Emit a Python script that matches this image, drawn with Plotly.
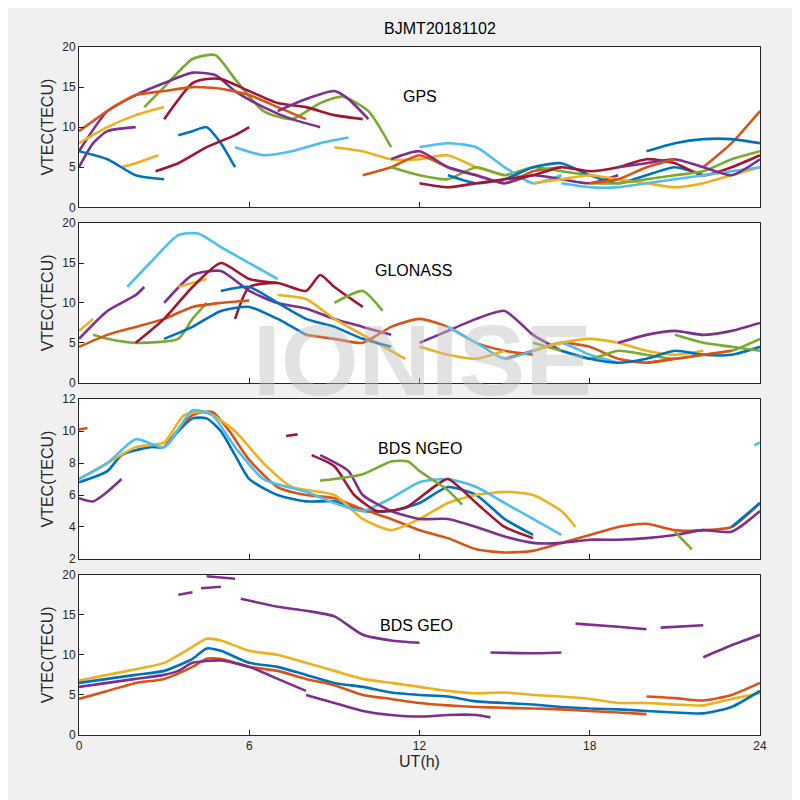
import plotly.graph_objects as go
from plotly.subplots import make_subplots

C = ['#0072BD', '#D95319', '#EDB120', '#7E2F8E', '#77AC30', '#4DBEEE', '#A2142F']

# each segment: color index, x (UT hours), VTEC values
gps_c = [4, 3, 6, 1, 2, 2, 0, 5, 3, 3, 6, 0, 2, 1, 4, 5, 3, 0, 6, 2, 1, 4, 5, 3, 0, 1]
gps_x = [[2.3, 3, 4, 4.8, 5.5, 6.5, 7.5, 8.5, 9.3, 10.2, 11],
         [0, 1, 2, 3, 4, 4.8, 5.5, 6.5, 7.5, 8.5],
         [3, 4, 4.5, 5, 6, 7, 8, 9, 10],
         [0, 1, 2, 3, 4, 5, 6, 7, 8],
         [0, 1, 2, 3],
         [1.5, 2, 2.8],
         [3.5, 4, 4.5, 5, 5.5],
         [5.5, 6.5, 7.5, 8.5, 9.5],
         [0, 0.5, 1, 2],
         [7, 8, 9, 9.5, 10.2],
         [2.7, 3.5, 4.5, 5.5, 6],
         [0, 1, 2, 3],
         [9, 10, 11, 12, 13, 14, 15],
         [10, 11, 12, 13, 14, 15, 16, 17],
         [11, 12, 13, 14, 15, 16, 17, 18],
         [12, 13, 14, 15, 16, 17],
         [11, 12, 13, 14, 15, 16, 17, 18, 19],
         [13, 14, 15, 16, 17, 18, 19, 20, 21, 22],
         [12, 13, 14, 15, 16, 17, 18, 19, 20, 21, 22, 23, 24],
         [16, 17, 18, 19, 20, 21, 22, 23, 24],
         [22, 23, 24],
         [18, 19, 20, 21, 22, 23, 24],
         [17, 18, 19, 20, 21, 22, 23, 24],
         [19, 20, 21, 22, 23, 24],
         [20, 21, 22, 23, 24],
         [18, 19, 20, 21]]
gps_y = [[12.5, 15, 18.5, 19, 16, 12, 11, 13, 13.8, 12, 7.5],
         [7, 12, 14, 15.5, 16.8, 16.5, 14.5, 12.5, 11, 10],
         [11, 15.5, 16, 16, 14.5, 13, 12.5, 11.5, 11],
         [9.5, 12, 14, 14.5, 15, 14.8, 14, 12.5, 11],
         [8, 10, 11.5, 12.5],
         [5, 5.5, 6.5],
         [9, 9.5, 10, 8, 5],
         [7.5, 6.5, 7, 8, 8.7],
         [5, 8, 9.5, 10],
         [12, 13.5, 14.5, 13.5, 11],
         [4.5, 5.5, 7.5, 9, 10],
         [7, 6, 4, 3.5],
         [7.5, 7, 6, 6, 6.5, 5, 4],
         [4, 5, 6.5, 5, 4, 3, 4.5, 5],
         [5, 4, 3.5, 5, 4, 5, 4.5, 4],
         [7.5, 8, 7.5, 5, 3, 4],
         [6, 7, 5, 4, 3, 4, 3.5, 3, 4],
         [4, 3, 3.5, 5, 5.5, 4, 3, 4, 5, 4],
         [3, 2.5, 3, 3.5, 4, 5, 4.5, 5, 6, 5.5, 4, 5, 6.5],
         [3, 3.5, 4, 3.5, 3, 2.5, 3, 4, 5],
         [5, 8, 12],
         [3, 3, 3.5, 4, 4.5, 6, 7],
         [3, 2.5, 2.5, 3, 3.5, 4, 4.5, 5],
         [5, 5.5, 6, 5, 4, 6],
         [7, 8, 8.5, 8.5, 8],
         [3, 3.5, 5, 6]]

glo_c = [5, 6, 3, 3, 2, 2, 2, 0, 4, 4, 1, 1, 0, 6, 3, 1, 5, 4, 2, 0, 3, 1, 4, 2]
glo_x = [[1.7, 2.5, 3.5, 4.2, 5, 6, 7],
         [5.5, 6, 7, 8, 8.5, 9, 10],
         [0, 1, 2, 2.3],
         [3, 4, 5, 6, 7, 8, 9, 10, 11],
         [0, 0.5],
         [3.5, 4.5],
         [7, 8, 9, 10, 11, 11.5],
         [5, 6, 7, 8, 9, 10, 11],
         [0.5, 1, 2, 3.5, 4, 4.5],
         [9, 10, 10.7],
         [0, 1, 2, 3, 4, 5, 6],
         [8, 9, 10, 11, 12, 13, 14, 15, 16],
         [3, 4, 5, 6, 7, 8],
         [2, 3, 4, 5, 6, 7],
         [12, 13, 14, 15, 16, 17],
         [15, 16, 17, 18, 19, 20, 21],
         [13, 14, 15, 16, 17, 18, 19],
         [16, 17, 18, 19, 20, 21, 22, 23, 24],
         [16, 17, 18, 19, 20, 21, 22],
         [17, 18, 19, 20, 21, 22, 23, 24],
         [19, 20, 21, 22, 23, 24],
         [20, 21, 22, 23],
         [21, 22, 23, 24],
         [12, 13, 14, 15]]
glo_y = [[12, 15, 18.5, 18.7, 17, 15, 13],
         [8, 12, 12.5, 11.5, 13.5, 12, 9.5],
         [5.5, 9, 11, 12],
         [10, 13.5, 14, 11.5, 10, 9.3, 8, 7, 6],
         [6.5, 8],
         [12, 13],
         [11, 10.5, 8, 6, 4, 3],
         [11.5, 12, 10, 8, 7, 5.5, 4.5],
         [6, 5.5, 5, 5.5, 8, 10],
         [10, 11.5, 9],
         [4.5, 6, 7, 8, 9.5, 10, 10.3],
         [6, 5.5, 5, 7, 8, 7, 5, 4, 3.5],
         [5.5, 7, 9, 9.5, 8, 6],
         [5, 8, 12, 15, 13, 12.5],
         [5, 6.5, 8, 9, 6, 4],
         [3, 4, 5, 4.5, 3, 2.5, 3],
         [7, 5, 3, 4, 5, 3.5, 2.5],
         [5, 4, 3, 4, 3.5, 3, 3.5, 4, 5.5],
         [4, 5, 5.5, 5, 4, 3.5, 4],
         [4, 3, 2.5, 3, 4, 3.5, 3.5, 4.5],
         [5, 6, 6.5, 6, 6.5, 7.5],
         [2.5, 3, 3.5, 4],
         [6, 5, 4.5, 4],
         [4.5, 3.5, 3, 4]]

ngeo_c = [0, 1, 1, 2, 5, 5, 3, 3, 6, 6, 4, 4, 0]
ngeo_x = [[0, 1, 1.5, 2.5, 3, 3.5, 4, 4.5, 5, 5.5, 6, 7, 8, 9, 10, 11, 12, 13, 14, 15, 16],
          [0, 0.3],
          [3, 4, 4.7, 5.3, 6, 7, 8, 9, 10, 11, 12, 13, 14, 15, 16, 17, 18, 19, 20, 21, 22, 23, 24],
          [0, 1, 2, 3, 3.7, 4.5, 5.5, 6.5, 7.5, 9, 10, 11, 12, 13, 14, 15, 16, 17, 17.5],
          [0, 1, 2, 3, 4, 4.7, 5.5, 6.5, 8, 9, 10, 11, 12, 13, 14, 15, 16, 17],
          [23.8, 24],
          [0, 0.5, 1, 1.5],
          [8.5, 9.5, 10, 11, 12, 13, 14, 15, 16, 17, 18, 19, 20, 21, 22, 23, 24],
          [7.3, 7.7],
          [8.2, 9, 9.7, 10.5, 11.5, 12.5, 13, 14, 15, 16],
          [8.5, 9, 10, 11, 11.6, 12, 13, 13.5],
          [21, 21.6],
          [23, 23.8, 24]]
ngeo_y = [[6.8, 7.5, 8.5, 9, 9, 10, 10.8, 10.8, 10, 8.5, 7, 6, 5.6, 5.6, 5, 5, 5.5, 6.5, 6, 4.5, 3.5],
          [10.1, 10.2],
          [9, 11, 11.2, 10, 8.2, 6.5, 6, 5.8, 5.1, 4.5, 3.8, 3.3, 2.6, 2.4, 2.5, 3, 3.5, 4, 4.2, 3.8, 3.8, 4, 5.5],
          [7, 8, 9, 9.3, 11, 11.2, 10, 8, 6.5, 6, 4.5, 3.8, 4.5, 5.5, 6, 6.2, 6, 5, 4],
          [7, 8, 9.5, 9, 11.3, 11, 9, 7, 6.2, 5.5, 5, 5.8, 6.8, 7, 6.5, 5.5, 4.5, 3.5],
          [9.1, 9.3],
          [5.8, 5.6, 6.2, 7],
          [8.5, 7.5, 6, 5, 4.5, 4.5, 4, 3.4, 3, 3, 3.2, 3.2, 3.3, 3.5, 3.8, 3.7, 5],
          [9.7, 9.8],
          [8.5, 7.8, 6, 5, 5.2, 6.5, 7, 5.5, 4, 3.3],
          [6.9, 7, 7.3, 8.1, 8.1, 7.5, 6.3, 5.4],
          [3.7, 2.6],
          [4, 5.2, 5.5]]

geo_c = [2, 0, 1, 1, 3, 3, 3, 3, 3, 3, 3, 3, 3, 3]
geo_x = [[0, 1, 2, 3, 4, 4.5, 5, 6, 7, 8, 9, 10, 11, 12, 13, 14, 15, 16, 17, 18, 19, 20, 21, 22, 23, 24],
         [0, 1, 2, 3, 4, 4.5, 5, 6, 7, 8, 9, 10, 11, 12, 13, 14, 15, 16, 17, 18, 19, 20, 21, 22, 23, 24],
         [0, 1, 2, 3, 4, 4.5, 5, 6, 7, 8, 9, 10, 11, 12, 13, 14, 15, 16, 17, 18, 19, 20],
         [20, 21, 22, 23, 24],
         [0, 1, 2, 3, 3.5, 4, 5, 6, 7, 8],
         [8, 9, 10, 11, 12, 13, 14, 14.5],
         [3.5, 4],
         [4.3, 5],
         [4.5, 5.5],
         [5.7, 7, 8, 9, 10, 11, 12],
         [14.5, 16, 17],
         [17.5, 19, 20],
         [20.5, 22],
         [22, 23, 24]]
geo_y = [[6.8, 7.5, 8.2, 9, 11, 12, 11.8, 10.5, 10, 9, 8, 7, 6.5, 6, 5.5, 5.2, 5.3, 5, 4.8, 4.5, 4, 4, 3.8, 3.7, 4.5, 5.2],
         [6.5, 7, 7.5, 8, 9.5, 10.8, 10.5, 9, 8.5, 7.5, 6.5, 6, 5.3, 5, 4.8, 4.2, 4, 3.8, 3.5, 3.3, 3.2, 3, 2.8, 2.7, 3.5, 5.5],
         [4.5, 5.5, 6.5, 7, 8.5, 9.5, 9.5, 8.5, 8, 7, 6.2, 5, 4.5, 4, 3.7, 3.5, 3.4, 3.3, 3.2, 3, 2.8, 2.6],
         [4.8, 4.6, 4.3, 5, 6.5],
         [6, 6.5, 7, 7.5, 8, 9, 9.3, 8.5, 7, 5.5],
         [5, 4, 3, 2.5, 2.3, 2.5, 2.5, 2.2],
         [17.5, 17.8],
         [18.3, 18.5],
         [19.8, 19.5],
         [17, 16, 15.5, 14.8, 12.5, 11.8, 11.5],
         [10.3, 10.2, 10.3],
         [13.9, 13.5, 13.2],
         [13.4, 13.7],
         [9.7, 11.2, 12.5]]

x_ticks = [0, 6, 12, 18, 24]
panels = [("GPS", gps_c, gps_x, gps_y, [0, 20], [0, 5, 10, 15, 20], (12, 13.8)),
          ("GLONASS", glo_c, glo_x, glo_y, [0, 20], [0, 5, 10, 15, 20], (11.8, 14.1)),
          ("BDS NGEO", ngeo_c, ngeo_x, ngeo_y, [2, 12], [2, 4, 6, 8, 10, 12], (12, 8.9)),
          ("BDS GEO", geo_c, geo_x, geo_y, [0, 20], [0, 5, 10, 15, 20], (11.9, 13.6))]

fig = make_subplots(rows=4, cols=1)
doms = [[0.767, 1.0], [0.512, 0.744], [0.256, 0.488], [0.0, 0.233]]
for i, (name, cs, xs, ys, yr, yt, lab) in enumerate(panels):
    r = i + 1
    for c, x, y in zip(cs, xs, ys):
        fig.add_trace(go.Scatter(x=x, y=y, mode='lines', line=dict(color=C[c], width=2.6, shape='spline', smoothing=0.6),
                                 showlegend=False, hoverinfo='skip'), row=r, col=1)
    ax = '' if r == 1 else str(r)
    fig.add_annotation(x=lab[0], y=lab[1], xref='x' + ax, yref='y' + ax, text=name, showarrow=False,
                       font=dict(size=16, color='black'))
    fig.update_yaxes(range=yr, tickvals=yt, domain=doms[i], title_text='VTEC(TECU)', title_font=dict(size=16),
                     title_standoff=4, automargin=False, row=r, col=1)
    fig.update_xaxes(range=[0, 24], tickvals=x_ticks, showticklabels=(r == 4), automargin=False, row=r, col=1)

fig.update_xaxes(showgrid=False, zeroline=False, showline=True, mirror=True, linecolor='#262626', linewidth=1,
                 ticks='inside', ticklen=5, tickcolor='#262626', tickfont=dict(size=12, color='#262626'))
fig.update_yaxes(showgrid=False, zeroline=False, showline=True, mirror=True, linecolor='#262626', linewidth=1,
                 ticks='inside', ticklen=5, tickcolor='#262626', tickfont=dict(size=12, color='#262626'))
fig.update_xaxes(title_text='UT(h)', title_font=dict(size=16), title_standoff=2, row=4, col=1)

fig.add_annotation(x=0.505, y=0.545, xref='paper', yref='paper', text='<b>IONISE</b>', showarrow=False,
                   font=dict(size=100, color='rgba(190,190,190,0.45)', family='Liberation Sans'))
fig.update_layout(width=800, height=800, paper_bgcolor='#f0f0f0', plot_bgcolor='white',
                  margin=dict(l=71, r=48, t=39, b=73),
                  font=dict(family='Liberation Sans', color='#262626'),
                  title=dict(text='BJMT20181102', x=0.54, xanchor='center', y=0.982, font=dict(size=16, color='black')))
fig.write_html("out.html")
